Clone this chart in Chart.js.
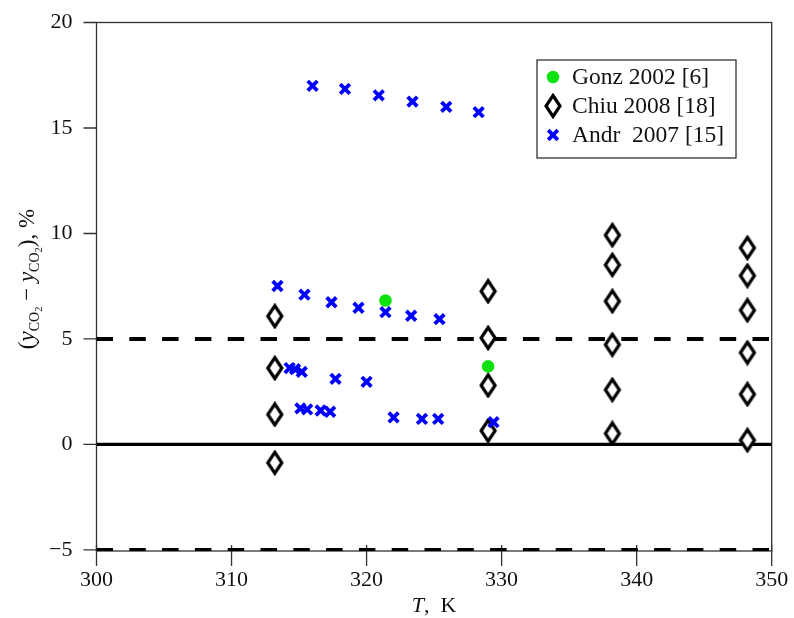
<!DOCTYPE html>
<html>
<head>
<meta charset="utf-8">
<title>CO2 deviation vs temperature</title>
<script src="https://cdn.jsdelivr.net/npm/chart.js@4.4.1/dist/chart.umd.min.js"></script>
<style>
    html, body { margin: 0; padding: 0; background: #fff; }
    #wrap { width: 794px; height: 618px; }
</style>
</head>
<body>
<div id="wrap"><canvas id="chart" width="794" height="618"></canvas></div>
<script>
// ═══════════════════════════════════════════════════════════
//  Data
// ═══════════════════════════════════════════════════════════

var GONZ_T   = [321.4, 329.0];
var GONZ_DEV = [6.82, 3.70];

var CHIU_T   = [313.2, 313.2, 313.2, 313.2,
                329.0, 329.0, 329.0, 329.0,
                338.2, 338.2, 338.2, 338.2, 338.2, 338.2,
                348.2, 348.2, 348.2, 348.2, 348.2, 348.2];
var CHIU_DEV = [6.08, 3.62, 1.42, -0.87,
                7.26, 5.05, 2.80, 0.65,
                9.92, 8.51, 6.79, 4.73, 2.59, 0.52,
                9.32, 8.00, 6.36, 4.35, 2.38, 0.20];

var ANDR_T   = [316.0, 318.4, 320.9, 323.4, 325.9, 328.3,
                313.4, 315.4, 317.4, 319.4, 321.4, 323.3, 325.4,
                314.3, 314.7, 315.2, 317.7, 320.0,
                315.1, 315.6, 316.6, 317.3, 322.0, 324.1, 325.3, 329.4];
var ANDR_DEV = [17.0, 16.85, 16.55, 16.25, 16.0, 15.75,
                7.51, 7.10, 6.74, 6.48, 6.27, 6.10, 5.94,
                3.62, 3.57, 3.44, 3.11, 2.97,
                1.71, 1.66, 1.61, 1.55, 1.28, 1.21, 1.21, 1.06];

var SERIES_LABELS = ['Gonz 2002 [6]', 'Chiu 2008 [18]', 'Andr  2007 [15]'];

var X_TICKS = [300, 310, 320, 330, 340, 350];
var Y_TICKS = [-5, 0, 5, 10, 15, 20];

var REF_SOLID  = [0];
var REF_DASHED = [5, -5];

(function () {
    'use strict';

    var SERIF = "'Liberation Serif', 'Times New Roman', serif";
    var INK = '#111';
    var X_MIN = 300, X_MAX = 350;
    var Y_MIN = -5.05, Y_MAX = 20;

    function toPoints(xs, ys) {
        var out = [];
        for (var i = 0; i < xs.length; i++) out.push({ x: xs[i], y: ys[i] });
        return out;
    }

    // Tall open diamond used for the Chiu series
    function makeDiamond() {
        var c = document.createElement('canvas');
        c.width = 20; c.height = 26;
        var g = c.getContext('2d');
        g.beginPath();
        g.moveTo(10, 2.5);
        g.lineTo(17, 13);
        g.lineTo(10, 23.5);
        g.lineTo(3, 13);
        g.closePath();
        g.fillStyle = '#fff';
        g.fill();
        g.lineWidth = 3.2;
        g.lineJoin = 'miter';
        g.strokeStyle = '#000';
        g.stroke();
        return c;
    }
    var diamond = makeDiamond();

    // ═══════════════════════════════════════════════════════════
    //  Datasets
    // ═══════════════════════════════════════════════════════════

    var datasets = [
        {
            label: SERIES_LABELS[0],
            data: toPoints(GONZ_T, GONZ_DEV),
            pointStyle: 'circle',
            pointRadius: 6.3,
            pointBorderWidth: 0,
            backgroundColor: '#0fe30f',
            borderColor: '#0fe30f',
            order: 1
        },
        {
            label: SERIES_LABELS[1],
            data: toPoints(CHIU_T, CHIU_DEV),
            pointStyle: diamond,
            pointRadius: 10,
            backgroundColor: '#fff',
            borderColor: '#000',
            order: 2
        },
        {
            label: SERIES_LABELS[2],
            data: toPoints(ANDR_T, ANDR_DEV),
            pointStyle: 'crossRot',
            pointRadius: 6.8,
            pointBorderWidth: 3.8,
            backgroundColor: '#0000ff',
            borderColor: '#0000ff',
            order: 0
        }
    ];

    REF_SOLID.forEach(function (v) {
        datasets.push({
            type: 'line',
            data: [{ x: X_MIN, y: v }, { x: X_MAX, y: v }],
            borderColor: '#000', borderWidth: 3.2,
            pointRadius: 0, order: 5
        });
    });
    REF_DASHED.forEach(function (v) {
        datasets.push({
            type: 'line',
            data: [{ x: X_MIN, y: v }, { x: X_MAX, y: v }],
            borderColor: '#000', borderWidth: 4,
            borderDash: [16.5, 16.3],
            pointRadius: 0, order: 5
        });
    });

    // ═══════════════════════════════════════════════════════════
    //  Frame, ticks, axis titles, legend
    // ═══════════════════════════════════════════════════════════

    var framePlugin = {
        id: 'frame',
        beforeDatasetsDraw: function (chart) {
            var ctx = chart.ctx, a = chart.chartArea;
            var xs = chart.scales.x, ys = chart.scales.y;
            ctx.save();
            ctx.strokeStyle = '#333';
            ctx.lineWidth = 1.3;
            ctx.strokeRect(a.left, a.top, a.right - a.left, a.bottom - a.top);
            ctx.beginPath();
            Y_TICKS.forEach(function (v) {
                var py = ys.getPixelForValue(v);
                ctx.moveTo(a.left - 13, py);
                ctx.lineTo(a.left, py);
            });
            X_TICKS.forEach(function (v) {
                var px = xs.getPixelForValue(v);
                ctx.moveTo(px, a.bottom - 6);
                ctx.lineTo(px, a.bottom + 15);
            });
            ctx.stroke();
            ctx.restore();
        }
    };

    function drawRuns(ctx, runs, x, y) {
        var cx = x;
        runs.forEach(function (r) {
            ctx.font = (r.italic ? 'italic ' : '') + r.size + 'px ' + SERIF;
            ctx.fillText(r.t, cx, y + (r.dy || 0));
            cx += ctx.measureText(r.t).width;
        });
    }

    function runsWidth(ctx, runs) {
        var w = 0;
        runs.forEach(function (r) {
            ctx.font = (r.italic ? 'italic ' : '') + r.size + 'px ' + SERIF;
            w += ctx.measureText(r.t).width;
        });
        return w;
    }

    var titlePlugin = {
        id: 'axisTitles',
        afterDraw: function (chart) {
            var ctx = chart.ctx, a = chart.chartArea;
            ctx.save();
            ctx.fillStyle = INK;
            ctx.textBaseline = 'alphabetic';
            ctx.textAlign = 'left';

            // x title: T, K
            var xr = [
                { t: 'T', size: 22, italic: true },
                { t: ',  K', size: 22 }
            ];
            var xw = runsWidth(ctx, xr);
            drawRuns(ctx, xr, (a.left + a.right) / 2 - xw / 2, 612);

            // y title: (y_CO2 − y_CO2), %
            var yr = [
                { t: '(', size: 23 },
                { t: 'y', size: 23, italic: true },
                { t: 'CO', size: 14, dy: 5 },
                { t: '2', size: 10.5, dy: 8 },
                { t: ' \u2212 ', size: 23 },
                { t: 'y', size: 23, italic: true },
                { t: 'CO', size: 14, dy: 5 },
                { t: '2', size: 10.5, dy: 8 },
                { t: '), %', size: 23 }
            ];
            var yw = runsWidth(ctx, yr);
            ctx.translate(34, 279);
            ctx.rotate(-Math.PI / 2);
            drawRuns(ctx, yr, -yw / 2, 0);
            ctx.restore();
        }
    };

    var legendPlugin = {
        id: 'boxLegend',
        afterDraw: function (chart) {
            var ctx = chart.ctx;
            var box = { x: 537, y: 60, w: 199, h: 98 };
            var rowY = [77, 106, 135];
            ctx.save();
            ctx.fillStyle = '#fff';
            ctx.fillRect(box.x, box.y, box.w, box.h);
            ctx.strokeStyle = '#222';
            ctx.lineWidth = 1.2;
            ctx.strokeRect(box.x, box.y, box.w, box.h);

            for (var i = 0; i < 3; i++) {
                var ds = chart.data.datasets[i];
                ctx.fillStyle = ds.backgroundColor;
                ctx.strokeStyle = ds.borderColor;
                ctx.lineWidth = ds.pointBorderWidth || 0;
                Chart.helpers.drawPoint(ctx, {
                    pointStyle: ds.pointStyle,
                    radius: ds.pointRadius,
                    borderWidth: ds.pointBorderWidth || 0,
                    rotation: 0
                }, 553, rowY[i]);
                ctx.fillStyle = INK;
                ctx.font = '23.5px ' + SERIF;
                ctx.textBaseline = 'middle';
                ctx.textAlign = 'left';
                ctx.fillText(ds.label, 572, rowY[i] + 1);
            }
            ctx.restore();
        }
    };

    // ═══════════════════════════════════════════════════════════
    //  Chart
    // ═══════════════════════════════════════════════════════════

    var tickFont = { family: SERIF, size: 22 };

    // no extra room for edge labels: the plot box is fixed by padding + afterFit
    function noEdgePadding(s) {
        s.paddingTop = 0; s.paddingBottom = 0;
        s.paddingLeft = 0; s.paddingRight = 0;
    }

    new Chart(document.getElementById('chart').getContext('2d'), {
        type: 'scatter',
        data: { datasets: datasets },
        options: {
            responsive: false,
            animation: false,
            events: [],
            layout: { padding: { top: 22.5, right: 22.3, bottom: 0, left: 0 } },
            plugins: {
                legend: { display: false },
                tooltip: { enabled: false }
            },
            scales: {
                x: {
                    type: 'linear', min: X_MIN, max: X_MAX,
                    grid: { display: false, drawTicks: false },
                    border: { display: false },
                    ticks: { font: tickFont, color: INK, padding: 16, maxRotation: 0, autoSkip: false },
                    afterBuildTicks: function (s) {
                        s.ticks = X_TICKS.map(function (v) { return { value: v }; });
                    },
                    afterFit: function (s) { s.height = 67; noEdgePadding(s); }
                },
                y: {
                    type: 'linear', min: Y_MIN, max: Y_MAX,
                    grid: { display: false, drawTicks: false },
                    border: { display: false },
                    ticks: { font: tickFont, color: INK, padding: 24, autoSkip: false,
                        callback: function (v) { return v < 0 ? '\u2212' + Math.abs(v) : String(v); } },
                    afterBuildTicks: function (s) {
                        s.ticks = Y_TICKS.map(function (v) { return { value: v }; });
                    },
                    afterFit: function (s) { s.width = 96.5; noEdgePadding(s); }
                }
            }
        },
        plugins: [framePlugin, titlePlugin, legendPlugin]
    });
})();
</script>
</body>
</html>
